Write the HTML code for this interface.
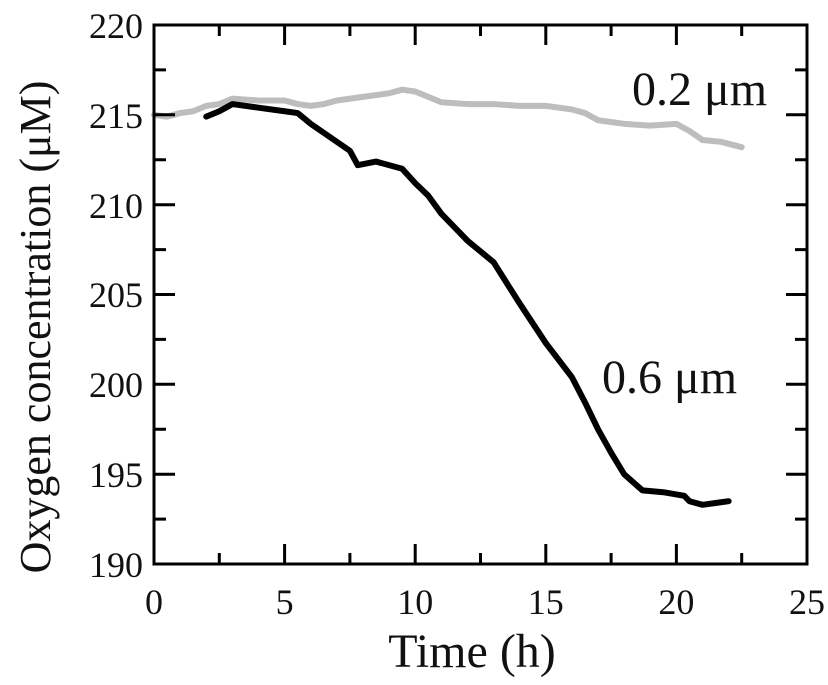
<!DOCTYPE html>
<html><head><style>body{margin:0;background:#fff}svg{display:block}text{font-family:"Liberation Serif",serif;fill:#111}</style></head>
<body>
<svg width="828" height="685" viewBox="0 0 828 685">
<g transform="matrix(26.12 0 0 -17.97 154 3978.4)" fill="none" stroke-linejoin="round" stroke-linecap="round">
<polyline vector-effect="non-scaling-stroke" stroke="#bdbdbd" stroke-width="6" points="0,215 0.5,214.9 1,215.1 1.5,215.2 2,215.5 2.5,215.6 3,215.9 4,215.8 5,215.8 5.5,215.6 6,215.5 6.5,215.6 7,215.8 8,216 9,216.2 9.5,216.4 10,216.3 10.5,216 11,215.7 12,215.6 13,215.6 14,215.5 15,215.5 16,215.3 16.5,215.1 17,214.7 18,214.5 19,214.4 20,214.5 20.5,214.1 21,213.6 21.7,213.5 22.5,213.2"/>
<polyline vector-effect="non-scaling-stroke" stroke="#000" stroke-width="6" points="2,214.9 2.5,215.2 3,215.6 4,215.4 5,215.2 5.5,215.1 6,214.5 6.5,214 7,213.5 7.5,213 7.8,212.2 8.5,212.4 9.5,212 10,211.2 10.5,210.5 11,209.5 12,208 13,206.8 14,204.5 15,202.3 16,200.4 16.5,199 17,197.5 17.5,196.2 18,195 18.7,194.1 19.5,194 20.3,193.8 20.5,193.5 21,193.3 21.5,193.4 22,193.5"/>
</g>
<g stroke="#000" stroke-width="3" fill="none">
<rect x="154" y="25" width="653" height="539"/>
<path d="M284.6,564v-20M415.2,564v-20M545.8,564v-20M676.4,564v-20M219.3,564v-11M349.9,564v-11M480.5,564v-11M611.1,564v-11M741.7,564v-11
M284.6,25v20M415.2,25v20M545.8,25v20M676.4,25v20M219.3,25v11M349.9,25v11M480.5,25v11M611.1,25v11M741.7,25v11
M154,474.2h21M154,384.3h21M154,294.5h21M154,204.7h21M154,114.8h21M154,519.1h12M154,429.2h12M154,339.4h12M154,249.6h12M154,159.7h12M154,69.9h12
M807,474.2h-21M807,384.3h-21M807,294.5h-21M807,204.7h-21M807,114.8h-21M807,519.1h-12M807,429.2h-12M807,339.4h-12M807,249.6h-12M807,159.7h-12M807,69.9h-12"/>
</g>
<g font-size="36" text-anchor="middle">
<text x="154" y="614">0</text><text x="284.6" y="614">5</text><text x="415.2" y="614">10</text><text x="545.8" y="614">15</text><text x="676.4" y="614">20</text><text x="807" y="614">25</text>
</g>
<g font-size="36" text-anchor="end">
<text x="143" y="577">190</text><text x="143" y="487">195</text><text x="143" y="397">200</text><text x="143" y="307">205</text><text x="143" y="218">210</text><text x="143" y="128">215</text><text x="143" y="38">220</text>
</g>
<text x="472" y="667" font-size="48" text-anchor="middle">Time (h)</text>
<text transform="translate(50,327) rotate(-90)" font-size="44" text-anchor="middle">Oxygen concentration (μM)</text>
<text x="632" y="105" font-size="48">0.2 μm</text>
<text x="602" y="393" font-size="48">0.6 μm</text>
</svg>
</body></html>
